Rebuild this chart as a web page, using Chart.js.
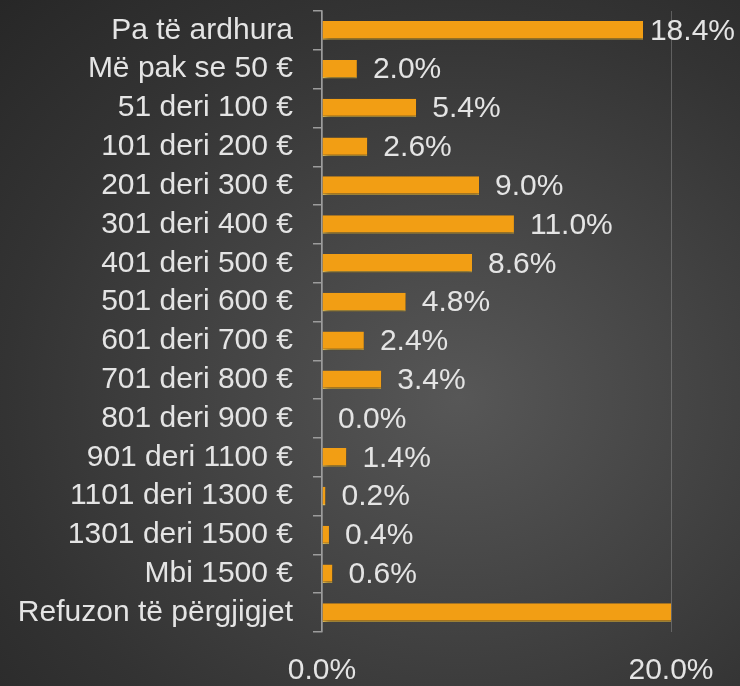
<!DOCTYPE html>
<html>
<head>
<meta charset="utf-8">
<script src="https://cdn.jsdelivr.net/npm/chart.js@4"></script>
<style>
  html, body { margin: 0; padding: 0; }
  body {
    width: 740px; height: 686px; overflow: hidden;
    background: radial-gradient(ellipse at 62% 58%, #575757 0%, #454545 35%, #333333 70%, #272727 100%);
  }
  #wrap { position: relative; width: 740px; height: 686px; }
</style>
</head>
<body>
<div id="wrap"><canvas id="chart" width="740" height="686"></canvas></div>
<script>
const categories = [
  'Pa të ardhura', 'Më pak se 50 €', '51 deri 100 €', '101 deri 200 €',
  '201 deri 300 €', '301 deri 400 €', '401 deri 500 €', '501 deri 600 €',
  '601 deri 700 €', '701 deri 800 €', '801 deri 900 €', '901 deri 1100 €',
  '1101 deri 1300 €', '1301 deri 1500 €', 'Mbi 1500 €', 'Refuzon të përgjigjet'
];
const shares = [18.4, 2.0, 5.4, 2.6, 9.0, 11.0, 8.6, 4.8, 2.4, 3.4, 0.0, 1.4, 0.2, 0.4, 0.6, 29.8];
const xTicks = [0, 20];

const FONT = '"Liberation Sans", Arial, sans-serif';
const TEXT = '#e4e4e4';

// value labels right of each bar, pushed back inside the canvas when too long
const valueLabels = {
  id: 'valueLabels',
  afterDatasetsDraw(chart) {
    const { ctx, chartArea, width } = chart;
    const meta = chart.getDatasetMeta(0);
    ctx.save();
    ctx.font = '30px ' + FONT;
    ctx.fillStyle = TEXT;
    ctx.textBaseline = 'middle';
    meta.data.forEach((bar, i) => {
      if (bar.x >= chartArea.right - 1) return;
      const txt = shares[i].toFixed(1) + '%';
      const w = ctx.measureText(txt).width;
      let x = bar.x + 16;
      if (x + w > width - 5) x = width - 5 - w;
      ctx.fillText(txt, x, bar.y + 1);
    });
    ctx.restore();
  }
};

const barShadow = {
  id: 'barShadow',
  beforeDatasetDraw(chart) {
    const ctx = chart.ctx;
    ctx.save();
    ctx.shadowColor = 'rgba(0,0,0,0.55)';
    ctx.shadowBlur = 6;
    ctx.shadowOffsetX = 2;
    ctx.shadowOffsetY = 3;
  },
  afterDatasetDraw(chart) {
    chart.ctx.restore();
  }
};

new Chart(document.getElementById('chart'), {
  type: 'bar',
  data: {
    labels: categories,
    datasets: [{
      data: shares,
      backgroundColor: '#F29E14',
      borderColor: '#FFD45C',
      borderWidth: { top: 0, left: 0, right: 0, bottom: 1.5 },
      borderSkipped: false,
      categoryPercentage: 0.5,
      barPercentage: 0.96
    }]
  },
  plugins: [barShadow, valueLabels],
  options: {
    indexAxis: 'y',
    responsive: false,
    animation: false,
    devicePixelRatio: 1,
    layout: { padding: { top: 11, right: 69, bottom: 0, left: 0 } },
    plugins: { legend: { display: false }, tooltip: { enabled: false } },
    scales: {
      x: {
        min: 0,
        max: 20,
        afterBuildTicks: (s) => { s.ticks = xTicks.map(v => ({ value: v })); },
        afterFit: (s) => { s.height = 54; s.paddingLeft = 0; s.paddingRight = 0; },
        grid: { color: 'rgba(150,150,150,0.45)', lineWidth: 1, drawTicks: false },
        border: { display: false },
        ticks: {
          color: TEXT,
          font: { family: FONT, size: 30 },
          padding: 21,
          maxRotation: 0,
          callback: (v) => Number(v).toFixed(1) + '%'
        }
      },
      y: {
        afterFit: (s) => { s.width = 322; s.paddingTop = 0; s.paddingBottom = 0; },
        grid: { display: true, drawOnChartArea: false, color: '#9c9c9c', tickLength: 9, lineWidth: 1.5 },
        border: { display: true, color: '#9c9c9c', width: 1.5 },
        ticks: {
          color: TEXT,
          font: { family: FONT, size: 30 },
          padding: 20,
          autoSkip: false
        }
      }
    }
  }
});
</script>
</body>
</html>
